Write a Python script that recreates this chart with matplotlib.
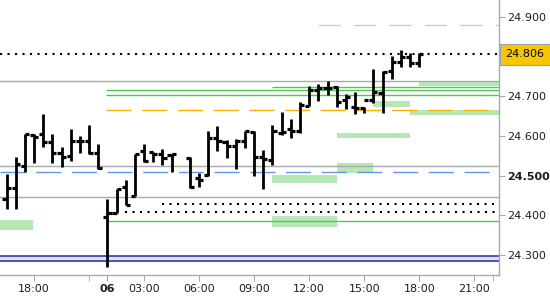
import numpy as np
import matplotlib
matplotlib.use("Agg")
import matplotlib.pyplot as plt
from matplotlib.patches import Rectangle

# 30-minute OHLC bars, indexed by bar number (0 = 18:00 of the previous day)
bar_idx = np.arange(-3, 43)
opens = [24.442, 24.469, 24.525, 24.603, 24.605, 24.585, 24.557, 24.550, 24.588, 24.588, 24.557,
         24.396, 24.406, 24.472, 24.449, 24.562, 24.560, 24.555, 24.552, np.nan, 24.545, 24.494,
         24.502, 24.595, 24.585, 24.575, 24.588, 24.610, 24.547, 24.540, 24.608, 24.618, 24.613,
         24.676, 24.716, 24.721, 24.724, 24.691, 24.673, 24.671, 24.691, 24.709, 24.764, 24.787,
         24.799, 24.784]
highs = [24.505, 24.547, 24.605, 24.605, 24.656, 24.605, 24.573, 24.618, 24.600, 24.628, 24.580,
         24.442, 24.467, 24.489, 24.555, 24.580, 24.560, 24.568, 24.555, np.nan, 24.547, 24.507,
         24.613, 24.625, 24.590, 24.593, 24.613, 24.613, 24.565, 24.628, 24.661, 24.643, 24.686,
         24.726, 24.731, 24.739, 24.726, 24.706, 24.711, 24.673, 24.769, 24.764, 24.802, 24.817,
         24.809, 24.809]
lows = [24.416, 24.416, 24.510, 24.532, 24.573, 24.532, 24.522, 24.537, 24.557, 24.555, 24.517,
        24.270, 24.406, 24.426, 24.449, 24.535, 24.535, 24.527, 24.510, np.nan, 24.469, 24.472,
        24.500, 24.562, 24.545, 24.517, 24.570, 24.500, 24.467, 24.527, 24.603, 24.595, 24.608,
        24.676, 24.688, 24.704, 24.673, 24.668, 24.656, 24.658, 24.683, 24.658, 24.744, 24.774,
        24.774, 24.774]
closes = [24.469, 24.530, 24.605, 24.598, 24.585, 24.557, 24.547, 24.588, 24.588, 24.557, 24.520,
          24.406, 24.467, 24.426, 24.555, 24.537, 24.555, 24.545, 24.555, np.nan, 24.472, 24.489,
          24.595, 24.588, 24.575, 24.588, 24.613, 24.547, 24.542, 24.613, 24.610, 24.613, 24.678,
          24.716, 24.721, 24.721, 24.686, 24.699, 24.671, 24.691, 24.711, 24.761, 24.787, 24.799,
          24.784, 24.806]
last_price = 24.806

# x-axis labels at bar positions
tick_pos = [0, 8, 12, 18, 24, 30, 36, 42, 48]
tick_labels = ['18:00', '06', '03:00', '06:00', '09:00', '12:00', '15:00', '18:00', '21:00']
minor_pos = [6, 50]

# y-axis labels
ytick_vals = [24.3, 24.4, 24.5, 24.6, 24.7, 24.9]

# horizontal levels: (price, start bar)
gray_solid = [24.740, 24.525, 24.446]
green_levels = [(24.723, 26), (24.716, 8), (24.703, 8), (24.385, 8)]
orange_level = (24.666, 8)
blue_dashed = 24.509
gray_dashed = (24.880, 31)
dotted_levels = [(24.428, 14), (24.410, 10)]
band = (24.285, 24.299)

# light green zones: (start bar, end bar, low, high)
zones = [(-3.7, -0.1, 24.363, 24.389),
         (26, 33, 24.482, 24.502),
         (33, 37, 24.507, 24.532),
         (26, 33, 24.371, 24.399),
         (33, 41, 24.595, 24.608),
         (37, 41, 24.673, 24.688),
         (41, 52, 24.653, 24.666),
         (42, 52, 24.726, 24.739)]

x_lo, x_hi = -3.71, 50.7
y_lo, y_hi = 24.250, 24.943

fig = plt.figure(figsize=(5.5, 3.0), dpi=100)
ax = fig.add_axes([0, 25 / 300, 499 / 550, 275 / 300])
ax.set_xlim(x_lo, x_hi)
ax.set_ylim(y_lo, y_hi)

# zones
for x0, x1, lo, hi in zones:
    ax.add_patch(Rectangle((x0, lo), x1 - x0, hi - lo, facecolor='#b5e8b5',
                           edgecolor='none', zorder=1))

# band
ax.axhspan(band[0], band[1], color='#e2e2f6', zorder=1)
ax.axhline(band[0], color='#2a2aa0', lw=1.1, zorder=2)
ax.axhline(band[1], color='#2a2aa0', lw=1.1, zorder=2)

for lvl in gray_solid:
    ax.axhline(lvl, color='#aaaaaa', lw=1.0, zorder=2)

for lvl, start in green_levels:
    ax.hlines(lvl, start - 0.1, x_hi, color='#50c850', lw=1.0, zorder=2)

ax.hlines(orange_level[0], orange_level[1] - 0.1, x_hi, color='#ffb000', lw=1.0,
          linestyles=(0, (18, 7.7)), zorder=2)
ax.hlines(blue_dashed, x_lo, x_hi, color='#6495ed', lw=1.0,
          linestyles=(0, (18, 7.7)), zorder=2)
ax.hlines(gray_dashed[0], gray_dashed[1], x_hi, color='#cccccc', lw=1.0,
          linestyles=(0, (16, 9.5)), zorder=2)
for lvl, start in dotted_levels:
    ax.hlines(lvl, start - 0.1, x_hi, color='black', lw=1.5,
              linestyles=(0, (1, 2.6)), zorder=2)
ax.hlines(last_price, x_lo, x_hi, color='black', lw=1.5,
          linestyles=(0, (1, 2.6)), zorder=2)

# OHLC bars
o = np.array(opens); h = np.array(highs); l = np.array(lows); c = np.array(closes)
ok = ~np.isnan(o)
ax.vlines(bar_idx[ok], l[ok], h[ok], color='black', lw=2.0, zorder=5)
ax.hlines(o[ok], bar_idx[ok] - 0.45, bar_idx[ok], color='black', lw=2.3, zorder=5)
ax.hlines(c[ok], bar_idx[ok], bar_idx[ok] + 0.45, color='black', lw=2.3, zorder=5)

# axes styling
for s in ['left', 'top']:
    ax.spines[s].set_visible(False)
for s in ['right', 'bottom']:
    ax.spines[s].set_color('#aaaaaa')
    ax.spines[s].set_linewidth(1.0)

ax.yaxis.tick_right()
ax.set_yticks(ytick_vals + [last_price])
ax.set_yticklabels(['%.3f' % v for v in ytick_vals] + [''], fontsize=8, color='#1c1c2c')
for lab, v in zip(ax.get_yticklabels(), ytick_vals):
    if abs(v - 24.5) < 1e-9:
        lab.set_fontweight('bold')
ax.tick_params(axis='y', length=4, color='#aaaaaa', pad=1.5)

ax.set_xticks(tick_pos)
ax.set_xticklabels(tick_labels, fontsize=8, color='#1c1c2c')
ax.get_xticklabels()[1].set_fontweight('bold')
ax.set_xticks(minor_pos, minor=True)
ax.tick_params(axis='x', which='both', length=4, color='#aaaaaa', pad=2.5)

# current price tag
ax.annotate('%.3f' % last_price, xy=(1.0, last_price), xycoords=('axes fraction', 'data'),
            xytext=(4.5, 0), textcoords='offset points', va='center', ha='left', fontsize=8,
            color='black',
            bbox=dict(boxstyle='square,pad=0.5', facecolor='#f7c600', edgecolor='#a0a0a0', lw=0.8))

fig.savefig('out.png', dpi=100)
